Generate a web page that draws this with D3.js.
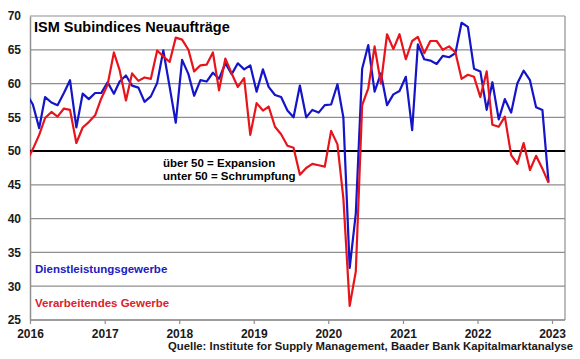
<!DOCTYPE html>
<html><head><meta charset="utf-8">
<script src="https://cdn.jsdelivr.net/npm/d3@7"></script>
<style>
body{margin:0;background:#fff}
svg{display:block}
text{font-family:"Liberation Sans",Arial,sans-serif;font-weight:bold}
</style>
</head><body>
<svg id="c" width="580" height="359"></svg>
<script>
// ---- data ----
const firstYear = 2015, firstMonthIndex = 11; // series starts Dec 2015 (clipped at axis)
const yearTicks = [2016, 2017, 2018, 2019, 2020, 2021, 2022, 2023];
const yTicks = [25, 30, 35, 40, 45, 50, 55, 60, 65, 70];
const services = [
  58.5,
  56.9, 53.4, 58.0, 57.2, 56.8, 58.6, 60.5, 53.5, 58.5, 57.7, 58.6, 58.6,
  60.2, 58.5, 60.3, 61.2, 59.7, 59.4, 57.3, 58.1, 60.1, 64.9, 59.5, 54.2,
  63.5, 61.4, 58.2, 60.5, 60.3, 61.6, 60.7, 63.0, 61.4, 63.0, 62.1, 62.7,
  58.8, 62.1, 59.5, 58.3, 58.0, 56.0, 55.0, 59.7, 55.0, 56.1, 55.7, 56.8,
  56.9, 59.9, 55.0, 32.7, 40.8, 62.2, 65.7, 58.8, 61.5, 56.8, 58.4, 58.9,
  61.0, 53.1, 65.8, 63.6, 63.4, 62.9, 64.1, 63.9, 64.5, 69.0, 68.4, 62.2,
  61.8, 56.1, 60.2, 54.7, 57.7, 55.7, 60.0, 61.9, 60.5, 56.5, 56.1, 45.4
];
const manufacturing = [
  48.5,
  50.3, 52.4, 54.9, 55.8, 55.1, 56.3, 56.1, 51.2, 53.5, 54.3, 55.3, 57.8,
  59.8, 64.6, 62.0, 57.5, 61.5, 60.4, 60.9, 60.7, 64.9, 64.0, 63.2, 66.8,
  66.5, 65.0, 61.8, 62.7, 62.8, 64.6, 59.0, 63.7, 61.5, 59.5, 60.8, 52.4,
  57.1, 56.0, 56.6, 53.6, 52.5, 50.8, 50.5, 46.5, 47.5, 48.1, 47.9, 47.7,
  53.0, 51.0, 43.0, 27.1, 32.2, 56.8, 59.3, 65.5, 60.0, 67.3, 65.1, 67.3,
  63.6, 66.3, 66.9, 64.5, 66.3, 66.3, 65.0, 65.5, 64.6, 60.7, 61.3, 61.0,
  58.0, 61.8, 53.9, 53.6, 55.1, 49.4, 48.1, 51.2, 47.2, 49.3, 47.4, 45.3
];
const seriesNames = ["Dienstleistungsgewerbe", "Verarbeitendes Gewerbe"];
const titleText = "ISM Subindices Neuaufträge";
const noteLines = ["über 50 = Expansion", "unter 50 = Schrumpfung"];
const sourceText = "Quelle: Institute for Supply Management, Baader Bank Kapitalmarktanalyse";

// ---- layout ----
const L = 30, R = 565, T = 16, B = 320;
const blue = "#1414c8", red = "#e8141c", grid = "#8f8f8f";

const svg = d3.select("#c");
const dates = services.map((_, i) => new Date(firstYear, firstMonthIndex + i, 15));

const x = d3.scaleTime()
  .domain([new Date(2016, 0, 1), new Date(2023, 0, 1)])
  .range([L, 552]);
const y = d3.scaleLinear().domain([25, 70]).range([B, T]);

// gridlines
svg.append("g").selectAll("line").data(yTicks.filter(v => v !== 50)).join("line")
  .attr("x1", L).attr("x2", R).attr("y1", d => y(d)).attr("y2", d => y(d))
  .attr("stroke", grid).attr("stroke-width", 1.2);
// right frame
svg.append("line").attr("x1", R).attr("x2", R).attr("y1", T).attr("y2", B)
  .attr("stroke", grid).attr("stroke-width", 1.2);

// y labels
const yAxis = d3.axisLeft(y).tickValues(yTicks).tickSize(0).tickPadding(9).tickFormat(d3.format("d"));
const gy = svg.append("g").attr("transform", `translate(${L},0)`).call(yAxis);
gy.select(".domain").attr("stroke", grid).attr("stroke-width", 1.5);
gy.selectAll("text").attr("font-size", 12).attr("fill", "#1a1a1a")
  .style("font-family", '"Liberation Sans",Arial,sans-serif').style("font-weight", "bold");

// x axis
const xAxis = d3.axisBottom(x).tickValues(yearTicks.map(yv => new Date(yv, 0, 1)))
  .tickSize(4).tickPadding(5).tickFormat(d3.timeFormat("%Y"));
const gx = svg.append("g").attr("transform", `translate(0,${B})`).call(xAxis);
gx.select(".domain").remove();
gx.append("line").attr("x1", L).attr("x2", R).attr("stroke", grid).attr("stroke-width", 1.5);
gx.selectAll(".tick line").attr("stroke", grid).attr("stroke-width", 1.2);
gx.selectAll("text").attr("font-size", 12).attr("fill", "#1a1a1a")
  .style("font-family", '"Liberation Sans",Arial,sans-serif').style("font-weight", "bold");

// 50 line
svg.append("line").attr("x1", L).attr("x2", R).attr("y1", y(50)).attr("y2", y(50))
  .attr("stroke", "#000").attr("stroke-width", 2);

// clip
svg.append("clipPath").attr("id", "clip").append("rect")
  .attr("x", L).attr("y", 0).attr("width", R - L).attr("height", 359);

const line = d3.line().x((d, i) => x(dates[i])).y(d => y(d));
const gl = svg.append("g").attr("clip-path", "url(#clip)");
gl.append("path").datum(services).attr("d", line).attr("fill", "none")
  .attr("stroke", blue).attr("stroke-width", 2.2).attr("stroke-linejoin", "round");
gl.append("path").datum(manufacturing).attr("d", line).attr("fill", "none")
  .attr("stroke", red).attr("stroke-width", 2.2).attr("stroke-linejoin", "round");

// texts
svg.append("text").attr("x", 34).attr("y", 32).attr("font-size", 14.5).attr("fill", "#000").text(titleText);
svg.selectAll(".note").data(noteLines).join("text").attr("class", "note")
  .attr("x", 163).attr("y", (d, i) => 167 + i * 12.5).attr("font-size", 11.5).attr("fill", "#000").text(d => d);
svg.append("text").attr("x", 35).attr("y", 273).attr("font-size", 11.5).attr("fill", "#2020c0").text(seriesNames[0]);
svg.append("text").attr("x", 35).attr("y", 307).attr("font-size", 11.5).attr("fill", "#e0202a").text(seriesNames[1]);
svg.append("text").attr("x", 573).attr("y", 350).attr("text-anchor", "end").attr("font-size", 11.3).attr("fill", "#1a1a1a").text(sourceText);
</script>
</body></html>
